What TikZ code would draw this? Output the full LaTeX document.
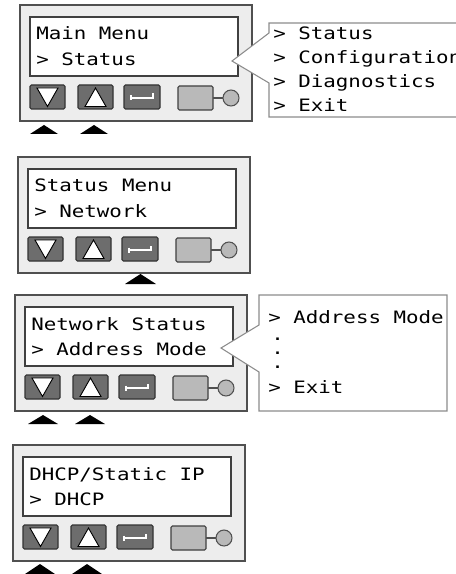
\documentclass[tikz,border=0pt]{standalone}
\usepackage{fontspec}
\usepackage{tikz}

\newfontfamily\lcdfont[FakeStretch=1.22]{DejaVu Sans Mono}

\definecolor{panelgray}{HTML}{EDEDED}
\definecolor{edgegray}{HTML}{505050}
\definecolor{keygray}{HTML}{6D6D6D}
\definecolor{ledgray}{HTML}{B9B9B9}
\definecolor{calloutgray}{HTML}{8C8C8C}

\begin{document}
\begin{tikzpicture}[x=0.75pt, y=-0.75pt,
    panelbox/.style={draw=edgegray, fill=panelgray, line width=0.8pt},
    screenbox/.style={draw=black!75, fill=white, line width=0.8pt},
    keybox/.style={draw=black!80, fill=keygray, line width=0.8pt, rounded corners=1pt},
    keymark/.style={draw=black, fill=white, line width=0.7pt},
    ledbox/.style={draw=black!75, fill=ledgray, line width=0.8pt, rounded corners=1pt},
    pressmark/.style={fill=black},
    calloutbox/.style={draw=calloutgray, fill=white, line width=0.8pt},
    lcdtext/.style={anchor=base west, inner sep=0pt, font=\lcdfont\fontsize{12.8}{15}\selectfont}]

    \path[use as bounding box] (0,0) rectangle (456,574);
    \clip (0,0) rectangle (456,574);

    % Keypad panels - frame, screen, four keys and status light
    \foreach \px/\py in {20/5, 18/157, 15/295, 13/445} {
        \draw[panelbox] (\px,\py) rectangle ++(232,116);
        \draw[screenbox] (\px+10,\py+12) rectangle ++(208,59);
        % Down key
        \draw[keybox] (\px+10,\py+80) rectangle ++(35,24);
        \draw[keymark] (\px+17,\py+83) -- (\px+38,\py+83) -- (\px+27.5,\py+101.5) -- cycle;
        % Up key
        \draw[keybox] (\px+58,\py+80) rectangle ++(35,24);
        \draw[keymark] (\px+65,\py+101.5) -- (\px+86,\py+101.5) -- (\px+75.5,\py+83) -- cycle;
        % Enter key
        \draw[keybox] (\px+104,\py+80) rectangle ++(36,24);
        \draw[white, line width=1.1pt] (\px+111,\py+93) -- (\px+133,\py+93) -- (\px+133,\py+88.5);
        \draw[white, line width=0.8pt] (\px+111,\py+90.5) -- (\px+111,\py+95.5);
        % Status light
        \draw[ledbox] (\px+158,\py+81) rectangle ++(35,24);
        \draw[edgegray, line width=0.8pt] (\px+193,\py+93) -- (\px+203,\py+93);
        \draw[draw=edgegray, fill=ledgray, line width=0.8pt] (\px+211,\py+93) circle (8);
    }

    % Pressed keys
    \fill[pressmark] (30,134) -- (58,134) -- (44,125) -- cycle;
    \fill[pressmark] (80,134) -- (108,134) -- (94,125) -- cycle;

    \fill[pressmark] (125,284) -- (156,284) -- (140.5,274) -- cycle;

    \fill[pressmark] (28,424) -- (58,424) -- (43,415) -- cycle;
    \fill[pressmark] (75,424) -- (105,424) -- (90,415) -- cycle;

    \fill[pressmark] (25,574) -- (55,574) -- (40,564) -- cycle;
    \fill[pressmark] (72,574) -- (102,574) -- (87,564) -- cycle;

    % Screen texts
    \node[lcdtext] (mainTitle) at (36,39.5) {Main Menu};
    \node[lcdtext] (mainItem) at (36,65.5) {> Status};

    \node[lcdtext] (statTitle) at (34,191.5) {Status Menu};
    \node[lcdtext] (statItem) at (34,217) {> Network};

    \node[lcdtext] (netTitle) at (31,330) {Network Status};
    \node[lcdtext] (netItem) at (31,355.5) {> Address Mode};

    \node[lcdtext] (ipTitle) at (29,480) {DHCP/Static IP};
    \node[lcdtext] (ipItem) at (29,505.5) {> DHCP};

    % Callout of the main menu
    \draw[calloutbox] (269,23) -- (480,23) -- (480,117) -- (269,117) -- (269,83)
        -- (232,61) -- (269,33) -- cycle;
    \node[lcdtext] (optStatus) at (273,39.5) {> Status};
    \node[lcdtext] (optConfig) at (273,63.5) {> Configuration};
    \node[lcdtext] (optDiag) at (273,87.5) {> Diagnostics};
    \node[lcdtext] (optExit) at (273,112) {> Exit};

    % Callout of the network status menu
    \draw[calloutbox] (259,295) -- (447,295) -- (447,411) -- (259,411) -- (259,372)
        -- (221,348) -- (259,325) -- cycle;
    \node[lcdtext] (netAddr) at (268,323.5) {> Address Mode};
    \node[lcdtext, align=left, font=\lcdfont\fontsize{12.8}{10.5}\selectfont]
        (netDots) at (271,368) {.\\.\\.};
    \node[lcdtext] (netExit) at (268,393.5) {> Exit};
\end{tikzpicture}
\end{document}
